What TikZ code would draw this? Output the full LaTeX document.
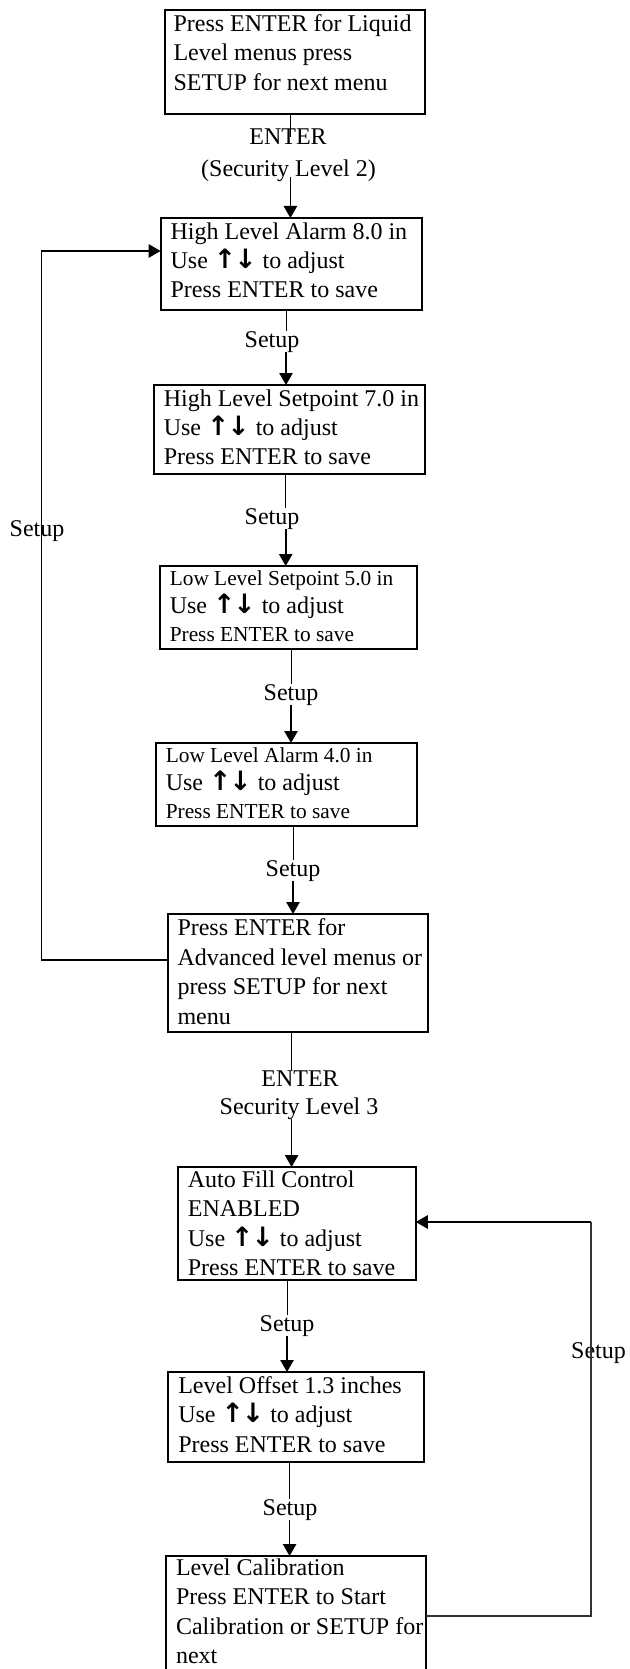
\documentclass[tikz,border=0pt]{standalone}
\usepackage{fontspec}
\setmainfont{Liberation Serif}
\newfontfamily\arrfont{DejaVu Sans}
\usetikzlibrary{arrows.meta}
\newcommand{\UD}{{\arrfont\bfseries\fontsize{20}{22}\selectfont ↑\kern-1.5pt↓}}
\newcommand{\sm}[1]{{\fontsize{16}{21}\selectfont #1}}
\tikzset{
  mbox/.style={draw, line width=1.5pt, inner xsep=7.5pt, inner ysep=3.4pt, outer sep=0pt,
    anchor=north west, font=\fontsize{18}{22}\selectfont},
  lbl/.style={inner sep=0pt, anchor=base, font=\fontsize{18}{22}\selectfont},
  thinln/.style={line width=0.75pt},
  arrln/.style={line width=1.2pt, -{Triangle[length=9pt,width=10pt]}},
  loopln/.style={line width=1.3pt},
  looparr/.style={line width=1.3pt, -{Triangle[length=9pt,width=10pt]}},
}
\begin{document}
\begin{tikzpicture}[x=0.75pt,y=-0.75pt]
\clip (0,0) rectangle (630,1669);
\fill[white] (0,0) rectangle (630,1669);

% boxes
\node[mbox, inner xsep=6.4pt] (B1) at (165,10) {\parbox[c][71.25pt][t]{182pt}{%
  \mbox{Press ENTER for Liquid}\\ \mbox{Level menus press}\\ \mbox{SETUP for next menu}}};
\node[mbox] (B2) at (160.6,218) {\parbox[c][62.25pt][t]{180.8pt}{%
  \mbox{High Level Alarm 8.0 in}\\ \mbox{Use \UD{} to adjust}\\ \mbox{Press ENTER to save}}};
\node[mbox] (B3) at (153.8,385) {\parbox[c][60pt][t]{188.3pt}{%
  \mbox{High Level Setpoint 7.0 in}\\ \mbox{Use \UD{} to adjust}\\ \mbox{Press ENTER to save}}};
\node[mbox, font=\fontsize{18}{21}\selectfont] (B4) at (159.8,566) {\parbox[c][55.5pt][t]{177.8pt}{%
  \mbox{\sm{Low Level Setpoint 5.0 in}}\\ \mbox{Use \UD{} to adjust}\\ \mbox{\sm{Press ENTER to save}}}};
\node[mbox, font=\fontsize{18}{21}\selectfont] (B5) at (155.8,743) {\parbox[c][55.5pt][t]{180.8pt}{%
  \mbox{\sm{Low Level Alarm 4.0 in}}\\ \mbox{Use \UD{} to adjust}\\ \mbox{\sm{Press ENTER to save}}}};
\node[mbox, font=\fontsize{18}{22.3}\selectfont] (B6) at (167.5,914) {\parbox[c][81.75pt][t]{180.5pt}{%
  \mbox{Press ENTER for}\\ \mbox{Advanced level menus or}\\ \mbox{press SETUP for next}\\ \mbox{menu}}};
\node[mbox, inner ysep=2.8pt] (B7) at (177.9,1167) {\parbox[c][79.2pt][t]{163.4pt}{%
  \mbox{Auto Fill Control}\\ \mbox{ENABLED}\\ \mbox{Use \UD{} to adjust}\\ \mbox{Press ENTER to save}}};
\node[mbox] (B8) at (168.3,1372) {\parbox[c][60.75pt][t]{176.9pt}{%
  \mbox{Level Offset 1.3 inches}\\ \mbox{Use \UD{} to adjust}\\ \mbox{Press ENTER to save}}};
\node[mbox, inner ysep=2pt] (B9) at (166,1556) {\parbox[c][96pt][t]{180pt}{%
  \mbox{Level Calibration}\\ \mbox{Press ENTER to Start}\\ \mbox{Calibration or SETUP for}\\ \mbox{next}}};

% labels
\node[lbl] (L1a) at (288,145) {ENTER};
\node[lbl] (L1b) at (288.5,177) {(Security Level 2)};
\node[lbl] (L2) at (272,347) {Setup};
\node[lbl] (L3) at (272,524) {Setup};
\node[lbl] (L4) at (291,700) {Setup};
\node[lbl] (L5) at (293,876) {Setup};
\node[lbl] (L6a) at (300,1086) {ENTER};
\node[lbl] (L6b) at (299,1114) {Security Level 3};
\node[lbl] (L7) at (287,1331) {Setup};
\node[lbl] (L8) at (290,1515) {Setup};
\node[lbl] (LL) at (37,536) {Setup};
\node[lbl] (LR) at (598.5,1358) {Setup};

% connector x positions
\coordinate (k1) at (290.4,0);
\coordinate (k2) at (286,0);
\coordinate (k3) at (285.7,0);
\coordinate (k4) at (291,0);
\coordinate (k5) at (293,0);
\coordinate (k6) at (291.6,0);
\coordinate (k7) at (287,0);
\coordinate (k8) at (289.6,0);

\draw[thinln] (B1.south -| k1) -- (L1a.center -| k1);
\draw[arrln] (L1b.base -| k1) -- (B2.north -| k1);
\draw[thinln] (B2.south -| k2) -- (L2.north -| k2);
\draw[arrln] (L2.south -| k2) -- (B3.north -| k2);
\draw[thinln] (B3.south -| k3) -- (L3.north -| k3);
\draw[arrln] (L3.south -| k3) -- (B4.north -| k3);
\draw[thinln] (B4.south -| k4) -- (L4.north -| k4);
\draw[arrln] (L4.south -| k4) -- (B5.north -| k4);
\draw[thinln] (B5.south -| k5) -- (L5.north -| k5);
\draw[arrln] (L5.south -| k5) -- (B6.north -| k5);
\draw[thinln] (B6.south -| k6) -- (L6a.north -| k6);
\draw[arrln] (L6b.south -| k6) -- (B7.north -| k6);
\draw[thinln] (B7.south -| k7) -- (L7.north -| k7);
\draw[arrln] (L7.south -| k7) -- (B8.north -| k7);
\draw[thinln] (B8.south -| k8) -- (L8.north -| k8);
\draw[arrln] (L8.south -| k8) -- (B9.north -| k8);

% left loop
\coordinate (yl) at (0,960);
\coordinate (xl) at (41.4,251);
\draw[loopln] (B6.west |- yl) -| (xl);
\draw[looparr] (xl) -- (B2.west |- xl);

% right loop
\coordinate (yr) at (0,1616);
\coordinate (xr) at (591,1222);
\draw[line width=0.9pt, black!80] (B9.east |- yr) -| (xr);
\draw[looparr] (xr) -- (B7.east |- xr);
\end{tikzpicture}
\end{document}
